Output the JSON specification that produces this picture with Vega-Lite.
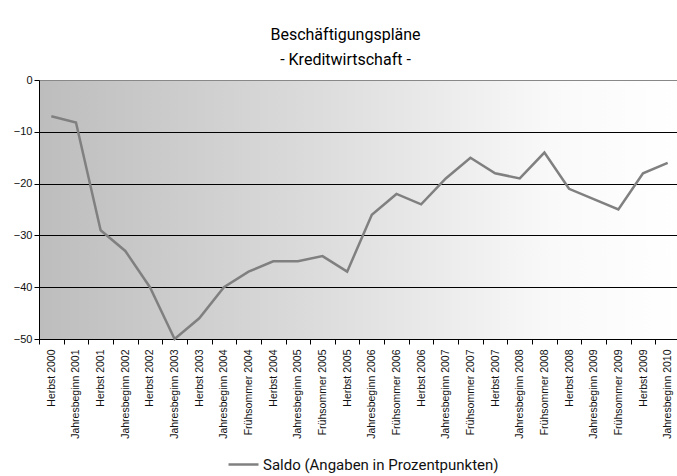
{
  "$schema": "https://vega.github.io/schema/vega-lite/v6.json",
  "width": 641,
  "height": 259,
  "autosize": {"type": "none"},
  "padding": {"left": 39, "top": 80, "right": 0, "bottom": 137},
  "background": "white",
  "title": {
    "text": ["Beschäftigungspläne", "- Kreditwirtschaft -"],
    "anchor": "middle",
    "dx": -14,
    "offset": 6,
    "font": "Roboto",
    "fontSize": 16,
    "fontWeight": "normal",
    "lineHeight": 25,
    "color": "#000"
  },
  "config": {
    "view": {
      "stroke": null,
      "fill": {
        "gradient": "linear",
        "x1": 0, "y1": 0, "x2": 1, "y2": 0,
        "stops": [
          {"offset": 0, "color": "#bdbdbd"},
          {"offset": 0.45, "color": "#dddddd"},
          {"offset": 0.8, "color": "#f9f9f9"},
          {"offset": 1, "color": "#ffffff"}
        ]
      }
    },
    "axis": {
      "labelFont": "Liberation Sans",
      "labelColor": "#111",
      "domainColor": "black",
      "tickColor": "black",
      "titleFontSize": 0
    }
  },
  "data": {
    "values": [
      {"t": "Herbst 2000", "v": -7},
      {"t": "Jahresbeginn 2001", "v": -8.2},
      {"t": "Herbst 2001", "v": -29},
      {"t": "Jahresbeginn 2002", "v": -33},
      {"t": "Herbst 2002", "v": -40},
      {"t": "Jahresbeginn 2003", "v": -50},
      {"t": "Herbst 2003", "v": -46},
      {"t": "Jahresbeginn 2004", "v": -40},
      {"t": "Frühsommer 2004", "v": -37},
      {"t": "Herbst 2004", "v": -35},
      {"t": "Jahresbeginn 2005", "v": -35},
      {"t": "Frühsommer 2005", "v": -34},
      {"t": "Herbst 2005", "v": -37},
      {"t": "Jahresbeginn 2006", "v": -26},
      {"t": "Frühsommer 2006", "v": -22},
      {"t": "Herbst 2006", "v": -24},
      {"t": "Jahresbeginn 2007", "v": -19},
      {"t": "Frühsommer 2007", "v": -15},
      {"t": "Herbst 2007", "v": -18},
      {"t": "Jahresbeginn 2008", "v": -19},
      {"t": "Frühsommer 2008", "v": -14},
      {"t": "Herbst 2008", "v": -21},
      {"t": "Jahresbeginn 2009", "v": -23},
      {"t": "Frühsommer 2009", "v": -25},
      {"t": "Herbst 2009", "v": -18},
      {"t": "Jahresbeginn 2010", "v": -16}
    ]
  },
  "mark": {"type": "line", "strokeWidth": 2.5},
  "encoding": {
    "x": {
      "field": "t",
      "type": "ordinal",
      "sort": null,
      "title": null,
      "scale": {"paddingInner": 0, "paddingOuter": 0, "align": 0.5},
      "axis": {
        "labelAngle": -90,
        "labelAlign": "right",
        "labelBaseline": "middle",
        "labelFontSize": 10.5,
        "labelPadding": 5,
        "tickBand": "extent",
        "tickSize": 5,
        "domainWidth": 1,
        "grid": false
      }
    },
    "y": {
      "field": "v",
      "type": "quantitative",
      "title": null,
      "scale": {"domain": [-50, 0], "nice": false, "zero": false},
      "axis": {
        "values": [0, -10, -20, -30, -40, -50],
        "tickSize": 5,
        "labelFontSize": 11,
        "labelPadding": 2,
        "grid": true,
        "gridColor": {"condition": {"test": "datum.value === 0", "value": "#888888"}, "value": "black"},
        "gridWidth": 1,
        "gridOpacity": 1
      }
    },
    "color": {
      "datum": "Saldo (Angaben in Prozentpunkten)",
      "type": "nominal",
      "scale": {"range": ["#808080"]},
      "legend": {
        "title": null,
        "orient": "none",
        "legendX": 188,
        "legendY": 368,
        "symbolType": "stroke",
        "symbolStrokeWidth": 2.5,
        "symbolSize": 900,
        "labelFont": "Roboto",
        "labelFontSize": 15,
        "labelColor": "#111",
        "labelOffset": 3,
        "labelLimit": 0
      }
    }
  }
}
